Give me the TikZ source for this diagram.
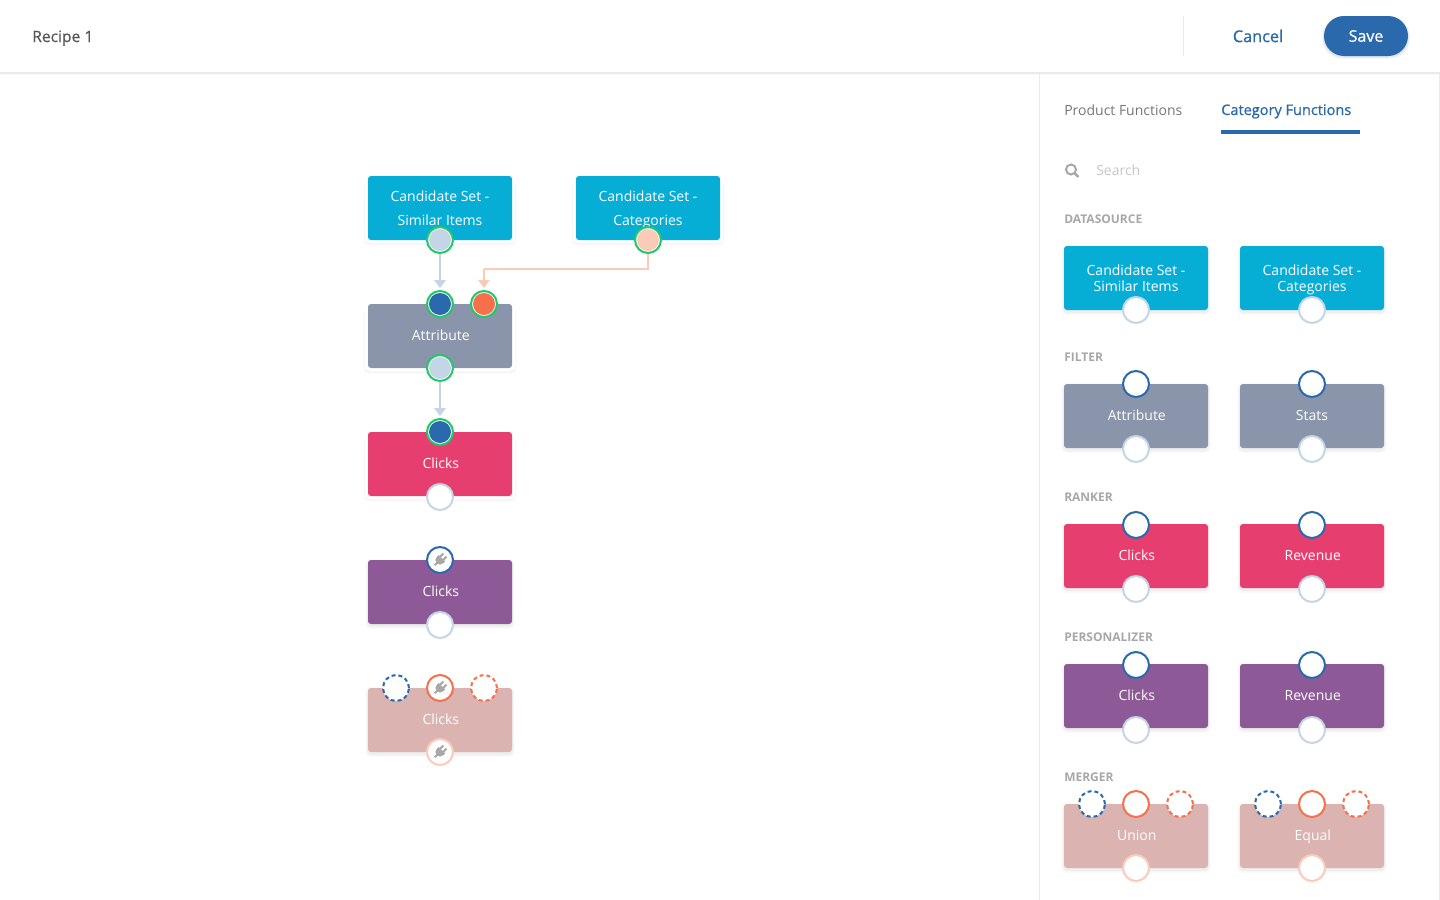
\documentclass[tikz,border=0pt]{standalone}
\usepackage{fontspec}
\setmainfont{Open Sans}
\newfontfamily\semib[FakeBold=0.8]{Open Sans}
\newfontfamily\medf[FakeBold=0.4]{Open Sans}
\usetikzlibrary{arrows.meta}
\definecolor{cyanbox}{HTML}{06AED5}
\definecolor{slatebox}{HTML}{8A94AA}
\definecolor{pinkbox}{HTML}{E63F6F}
\definecolor{purplebox}{HTML}{8D5A97}
\definecolor{dustbox}{HTML}{DBB3B1}
\definecolor{blueport}{HTML}{2A69AC}
\definecolor{orangeport}{HTML}{F7704C}
\definecolor{paleblue}{HTML}{C5D5E8}
\definecolor{peach}{HTML}{FBCAB9}
\definecolor{greenring}{HTML}{21C76A}
\definecolor{greytext}{HTML}{777777}
\definecolor{hdrtext}{HTML}{555555}
\definecolor{seclabel}{HTML}{A8A8A8}
\definecolor{plug}{HTML}{A8A8A8}
\definecolor{rulegrey}{HTML}{EAEAEA}
\tikzset{
  x=0.75pt,y=-0.75pt,
  boxst/.style={rectangle,rounded corners=2.25pt,minimum width=108pt,minimum height=48pt,inner sep=0pt,text=white,align=center},
  canvastext/.style={font=\fontsize{10.5}{18}\selectfont},
  sidetext/.style={font=\fontsize{10.5}{12}\selectfont},
  portst/.style={circle,minimum size=19.5pt,inner sep=0pt,fill=white,line width=1.5pt},
  inblue/.style={portst,draw=blueport},
  outpale/.style={portst,draw=paleblue},
  inorange/.style={portst,draw=orangeport},
  outpeach/.style={portst,draw=peach},
  dashblue/.style={portst,draw=blueport,dash pattern=on 3pt off 2.2pt},
  dashorange/.style={portst,draw=orangeport,dash pattern=on 3pt off 2.2pt},
  ongreen/.style={portst,draw=greenring},
  wire/.style={line width=1.5pt,-{Triangle[length=6pt,width=8.5pt]},shorten >=1.5pt},
  seclab/.style={font=\fontsize{9}{11}\bfseries\selectfont,text=seclabel,anchor=west,inner sep=0pt},
  tabtext/.style={font=\fontsize{10.5}{13}\selectfont,anchor=west,inner sep=0pt},
  plugicon/.pic={
    \begin{scope}[rotate=-45]
      \fill[plug] (-3.2,-7) rectangle (-1.2,-2);
      \fill[plug] (1.2,-7) rectangle (3.2,-2);
      \fill[plug] (-4.6,-2.5) -- (4.6,-2.5) -- (4.6,0) arc[start angle=0,end angle=-180,radius=3.45pt] -- cycle;
      \draw[plug,line width=1.5pt] (0,2) -- (0,7.5);
    \end{scope}
  }
}
\newcommand{\shifted}[1]{\hspace*{1.2pt}#1}
% soft shadow under a box: #1 left, #2 top, #3 right, #4 bottom
\newcommand{\softshadow}[4]{%
  \foreach \g/\o in {3/0.012,2/0.018,1/0.03}{%
    \fill[black,opacity=\o,rounded corners=3pt] (#1-\g,#2-\g+2) rectangle (#3+\g,#4+\g+2);}%
}
% canvas halo
\newcommand{\halo}[4]{%
  \foreach \g/\o in {5/0.012,4/0.02}{%
    \fill[black,opacity=\o,rounded corners=4pt] (#1-\g,#2+4) rectangle (#3+\g,#4+\g+1);}%
  \fill[white,rounded corners=4pt] (#1-3,#2-3) rectangle (#3+3,#4+3);%
}
\begin{document}
\begin{tikzpicture}
\useasboundingbox (0,0) rectangle (1440,900);
\fill[white] (0,0) rectangle (1440,900);
% header
\fill[black,opacity=0.02] (0,72) rectangle (1440,75);
\fill[rulegrey] (0,72) rectangle (1440,73.5);
\fill[rulegrey] (1183,16) rectangle (1184,56);
\fill[rulegrey] (1038.5,73) rectangle (1040,900);
\fill[rulegrey] (1439,73) rectangle (1440,900);
\node[font=\medf\fontsize{11.7}{14}\selectfont,text=hdrtext,anchor=base west,inner sep=0pt] (title) at (32,42) {Recipe 1};
\node[font=\semib\fontsize{12.2}{15}\selectfont,text=blueport,inner sep=0pt] (cancel) at (1258,36) {Cancel};
\fill[black,opacity=0.04,rounded corners=15pt] (1322,16) rectangle (1410,59);
\fill[blueport!30,opacity=0.4,rounded corners=15pt] (1323,17) rectangle (1409,57.5);
\node[fill=blueport,rounded corners=15pt,minimum width=63pt,minimum height=30pt,inner sep=0pt,text=white,font=\semib\fontsize{12}{15}\selectfont] (save) at (1366,36) {Save};
% tabs
\node[tabtext,text=greytext] (tabprod) at (1064,110) {Product Functions};
\node[text=blueport,font=\semib\fontsize{10.9}{13}\selectfont,anchor=base west,inner sep=0pt] (tabcat) at (1221,115) {Category Functions};
\fill[blueport] (1221,130) rectangle (1360,134);
% search
\draw[plug,line width=1.5pt] (1071,169.5) circle[radius=3.75pt];
\draw[plug,line width=1.9pt,line cap=round] (1074.8,173.5) -- (1078,176.5);
\node[tabtext,text=black!22] (search) at (1096,170) {Search};
% section labels
\node[seclab] (l1) at (1064,219) {DATASOURCE};
\node[seclab] (l2) at (1064,357) {FILTER};
\node[seclab] (l3) at (1064,497) {RANKER};
\node[seclab] (l4) at (1064,637) {PERSONALIZER};
\node[seclab] (l5) at (1064,777) {MERGER};
% ---------- canvas boxes
\halo{368}{176}{512}{240}
\halo{576}{176}{720}{240}
\halo{368}{304}{512}{368}
\halo{368}{432}{512}{496}
\softshadow{368}{560}{512}{624}
\softshadow{368}{688}{512}{752}
\node[boxst,canvastext,fill=cyanbox] (c1) at (440,208) {Candidate Set -\\Similar Items};
\node[boxst,canvastext,fill=cyanbox] (c2) at (648,208) {Candidate Set -\\\smash{Categories}};
\node[boxst,canvastext,fill=slatebox] (c3) at (440,336) {\shifted{\raisebox{0.6pt}{Attribute}}};
\node[boxst,canvastext,fill=pinkbox] (c4) at (440,464) {\shifted{\raisebox{0.6pt}{Clicks}}};
\node[boxst,canvastext,fill=purplebox] (c5) at (440,592) {\shifted{\raisebox{0.6pt}{Clicks}}};
\node[boxst,canvastext,fill=dustbox] (c6) at (440,720) {\shifted{\raisebox{0.6pt}{Clicks}}};
% canvas ports
\node[ongreen] (p1o) at (440,240) {};
\node[ongreen] (p2o) at (648,240) {};
\node[ongreen] (p3a) at (440,304) {};
\node[ongreen] (p3b) at (484,304) {};
\node[ongreen] (p3o) at (440,368) {};
\node[ongreen] (p4i) at (440,432) {};
\node[outpale] (p4o) at (440,497) {};
\node[inblue] (p5i) at (440,560) {};
\node[outpale] (p5o) at (440,625) {};
\node[dashblue] (p6a) at (396,688) {};
\node[inorange] (p6b) at (440,688) {};
\node[dashorange] (p6c) at (484,688) {};
\node[outpeach] (p6o) at (440,752) {};
\fill[paleblue] (p1o.center) circle[radius=8.25pt];
\fill[peach] (p2o.center) circle[radius=8.25pt];
\fill[blueport] (p3a.center) circle[radius=8.25pt];
\fill[orangeport] (p3b.center) circle[radius=8.25pt];
\fill[paleblue] (p3o.center) circle[radius=8.25pt];
\fill[blueport] (p4i.center) circle[radius=8.25pt];
\pic at (p5i.center) {plugicon};
\pic at (p6b.center) {plugicon};
\pic at (p6o.center) {plugicon};
% connectors
\coordinate (elbow) at (484,269);
\draw[wire,draw=paleblue,fill=paleblue] (p1o.south) -- (p3a.north);
\draw[wire,draw=paleblue,fill=paleblue] (p3o.south) -- (p4i.north);
\draw[line width=1.5pt,draw=peach] (p2o.south) |- (elbow);
\draw[wire,draw=peach,fill=peach] (elbow) -- (p3b.north);
% ---------- sidebar boxes
\foreach \n/\xx/\yy/\col/\txt in {
  s1/1136/278/cyanbox/{Candidate Set -\\Similar Items},
  s2/1312/278/cyanbox/{Candidate Set -\\\smash{Categories}},
  s3/1136/416/slatebox/{\shifted{\raisebox{0.6pt}{Attribute}}},
  s4/1312/416/slatebox/{\raisebox{0.6pt}{Stats}},
  s5/1136/556/pinkbox/{\shifted{\raisebox{0.6pt}{Clicks}}},
  s6/1312/556/pinkbox/{\shifted{\raisebox{0.6pt}{Revenue}}},
  s7/1136/696/purplebox/{\shifted{\raisebox{0.6pt}{Clicks}}},
  s8/1312/696/purplebox/{\shifted{\raisebox{0.6pt}{Revenue}}},
  s9/1136/836/dustbox/{\shifted{\raisebox{0.6pt}{Union}}},
  s10/1312/836/dustbox/{\shifted{\raisebox{0.6pt}[\height][0pt]{Equal}}}}{%
  \softshadow{\xx-72}{\yy-32}{\xx+72}{\yy+32}
  \node[boxst,sidetext,fill=\col] (\n) at (\xx,\yy) {\txt};
}
% sidebar ports
\node[outpale] (s1o) at (1136,310) {};
\node[outpale] (s2o) at (1312,310) {};
\node[inblue] (s3i) at (1136,384) {};
\node[outpale] (s3o) at (1136,449) {};
\node[inblue] (s4i) at (1312,384) {};
\node[outpale] (s4o) at (1312,449) {};
\node[inblue] (s5i) at (1136,525) {};
\node[outpale] (s5o) at (1136,589) {};
\node[inblue] (s6i) at (1312,525) {};
\node[outpale] (s6o) at (1312,589) {};
\node[inblue] (s7i) at (1136,665) {};
\node[outpale] (s7o) at (1136,730) {};
\node[inblue] (s8i) at (1312,665) {};
\node[outpale] (s8o) at (1312,730) {};
\node[dashblue] (s9a) at (1092,804) {};
\node[inorange] (s9b) at (1136,804) {};
\node[dashorange] (s9c) at (1180,804) {};
\node[outpeach] (s9o) at (1136,868) {};
\node[dashblue] (s10a) at (1268,804) {};
\node[inorange] (s10b) at (1312,804) {};
\node[dashorange] (s10c) at (1356,804) {};
\node[outpeach] (s10o) at (1312,868) {};
\end{tikzpicture}
\end{document}
